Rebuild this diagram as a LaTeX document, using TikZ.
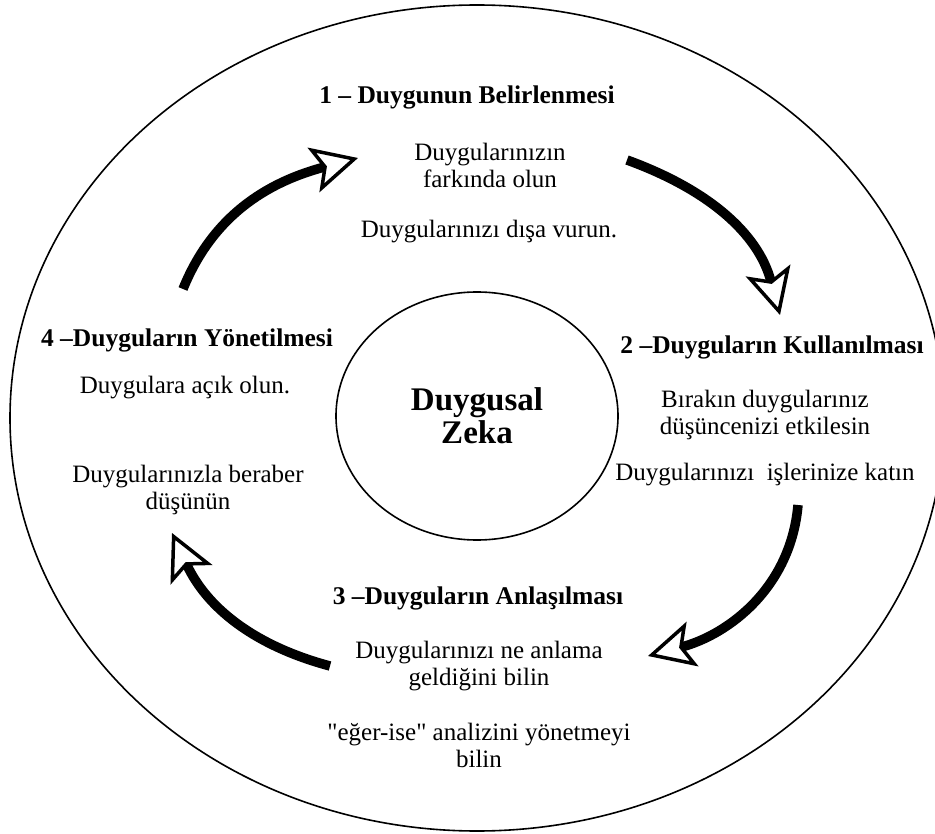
\documentclass[tikz,border=0pt]{standalone}
\usepackage{fontspec}
\setmainfont{Liberation Serif}
\usepackage{tikz}
\usetikzlibrary{calc,shapes.geometric,arrows.meta}

\begin{document}
\begin{tikzpicture}[x=1pt,y=-1pt]
      \tikzstyle{every node}=[align=center, font=\fontsize{25}{27}\selectfont]
      \tikzstyle{baslik}=[font=\fontsize{25.5}{27}\selectfont\bfseries]
      \tikzstyle{donus}=[line width=9.5pt, -{Stealth[open, length=46pt, width=46pt, inset=10pt, line width=3.5pt]}]

      \useasboundingbox (0,0) rectangle (935,834);
      \node[draw, line width=1.6pt, ellipse, minimum width=934pt, minimum height=826pt] (cerceve) at (477,418) {};
      \node[draw, line width=1.6pt, ellipse, minimum width=282pt, minimum height=248pt, font=\fontsize{33}{33}\selectfont\bfseries] (zeka) at (477,416) {Duygusal\\Zeka};

      \node[baslik] (b1) at (467,97) {1 – Duygunun Belirlenmesi};
      \node (b1a) at (490,165) {Duygularınızın\\farkında olun};
      \node (b1b) at (489,232) {Duygularınızı dışa vurun.};

      \node[baslik] (b2) at (772,347) {2 –Duyguların Kullanılması};
      \node (b2a) at (765,415) {Bırakın duygularınız\\düşüncenizi etkilesin};
      \node (b2b) at (765,475) {Duygularınızı \ işlerinize katın};

      \node[baslik] (b3) at (478,598) {3 –Duyguların Anlaşılması};
      \node (b3a) at (479,666) {Duygularınızı ne anlama\\geldiğini bilin};
      \node (b3b) at (479,745) {\textquotedbl eğer-ise\textquotedbl{} analizini yönetmeyi\\bilin};

      \node[baslik] (b4) at (187,340) {4 –Duyguların Yönetilmesi};
      \node (b4a) at (185,388) {Duygulara açık olun.};
      \node (b4b) at (188,490) {Duygularınızla beraber\\düşünün};

      \coordinate (o1) at (183,289);
      \coordinate (u1) at (358,158);
      \coordinate (o2) at (627,160);
      \coordinate (u2) at (780,315);
      \coordinate (o3) at (798,505);
      \coordinate (u3) at (648,656);
      \coordinate (o4) at (330,666);
      \coordinate (u4) at (172,533);

      \draw[donus] (o1) to[out=68, in=195] (u1);
      \draw[donus] (o2) to[out=-20, in=105] (u2);
      \draw[donus] (o3) to[out=-95, in=15] (u3);
      \draw[donus] (o4) to[out=165, in=-65] (u4);
    \end{tikzpicture}
\end{document}
